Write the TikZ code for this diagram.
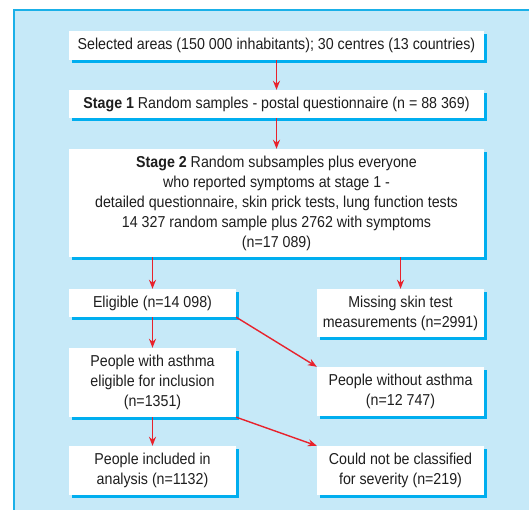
\documentclass[tikz,border=0pt]{standalone}
\usepackage{fontspec}
\setmainfont{Liberation Sans}[FakeStretch=0.9]
\usetikzlibrary{shadows,arrows.meta}
\definecolor{bgblue}{RGB}{198,233,248}
\definecolor{frameblue}{RGB}{26,176,232}
\definecolor{shadowblue}{RGB}{0,174,239}
\definecolor{arrowred}{RGB}{232,34,44}
\definecolor{txt}{RGB}{30,30,30}
\tikzset{
  box/.style={draw=none, fill=white, text=txt, align=center, inner sep=0pt,
    font=\fontsize{15.8}{20}\selectfont,
    drop shadow={shadow xshift=3pt, shadow yshift=-3pt, fill=shadowblue, opacity=1}},
  arr/.style={draw=arrowred, line width=1.4pt, -{Stealth[length=9pt,width=7pt]}}
}
\begin{document}
\begin{tikzpicture}[x=1pt,y=-1pt]
\useasboundingbox (0,0) rectangle (529,510);
\clip (0,0) rectangle (529,510);
\fill[bgblue] (14,10) rectangle (540,520);
\draw[frameblue, line width=1.6pt] (14,520) -- (14,10) -- (540,10);
\node[box, minimum width=415pt, minimum height=29pt] (b1) at (276.5,45.5)
  {Selected areas (150 000 inhabitants); 30 centres (13 countries)};
\node[box, minimum width=415pt, minimum height=28pt] (b2) at (276.5,104)
  {\textbf{Stage 1} Random samples - postal questionnaire (n = 88 369)};
\node[box, minimum width=415pt, minimum height=108pt] (b3) at (276.5,203)
  {\textbf{Stage 2} Random subsamples plus everyone\\who reported symptoms at stage 1 -\\detailed questionnaire, skin prick tests, lung function tests\\14 327 random sample plus 2762 with symptoms\\(n=17 089)};
\node[box, minimum width=167pt, minimum height=28pt] (elig) at (152.5,303)
  {Eligible (n=14 098)};
\node[box, minimum width=167pt, minimum height=48pt] (miss) at (400.5,313)
  {Missing skin test\\measurements (n=2991)};
\node[box, minimum width=167pt, minimum height=69pt] (asth) at (152.5,382.5)
  {People with asthma\\eligible for inclusion\\(n=1351)};
\node[box, minimum width=167pt, minimum height=49pt] (noasth) at (400.5,391.5)
  {People without asthma\\(n=12 747)};
\node[box, minimum width=167pt, minimum height=49pt] (incl) at (152.5,470.5)
  {People included in\\analysis (n=1132)};
\node[box, minimum width=167pt, minimum height=49pt] (ncl) at (400.5,470.5)
  {Could not be classified\\for severity (n=219)};
\draw[arr] (b1.south) -- (b2.north);
\draw[arr] (b2.south) -- (b3.north);
\draw[arr] (b3.south -| elig.north) -- (elig.north);
\draw[arr] (b3.south -| miss.north) -- (miss.north);
\draw[arr] (elig.south) -- (asth.north);
\draw[arr] (asth.south) -- (incl.north);
\draw[arr] (elig.south east) -- (noasth.north west);
\draw[arr] (asth.south east) -- (ncl.north west);
\end{tikzpicture}
\end{document}
